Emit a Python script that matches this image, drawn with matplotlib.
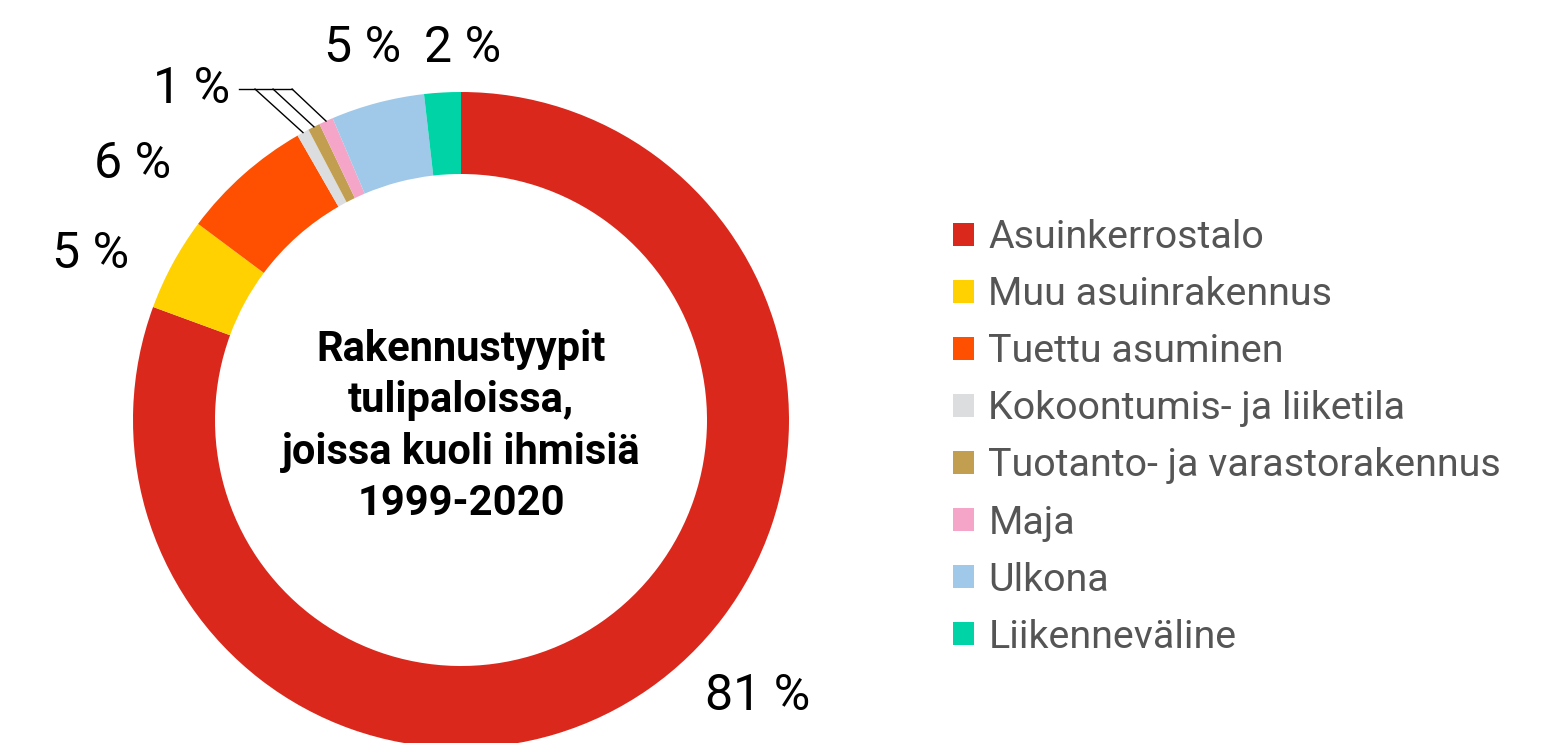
import matplotlib.pyplot as plt
from matplotlib.patches import Patch
import numpy as np

plt.rcParams['font.family'] = ['Roboto', 'DejaVu Sans']

categories = ['Asuinkerrostalo', 'Muu asuinrakennus', 'Tuettu asuminen',
              'Kokoontumis- ja liiketila', 'Tuotanto- ja varastorakennus',
              'Maja', 'Ulkona', 'Liikenneväline']
shares = [80.6, 4.6, 6.5, 0.6, 0.6, 0.7, 4.6, 1.8]
labels = ['81 %', '5 %', '6 %', '1 %', '1 %', '1 %', '5 %', '2 %']
colors = ['#da291c', '#ffd100', '#fe5000', '#dcdddf', '#c29f50',
          '#f4a5c8', '#a0c8e8', '#00d4a6']

W, H = 1568, 743
R = 328.0
cx, cy = 461, 420  # pixel centre, from top

fig = plt.figure(figsize=(W / 100, H / 100), dpi=100)
ax = fig.add_axes([0, 0, 1, 1])
wedges, _ = ax.pie(shares, colors=colors, startangle=90, counterclock=False,
                   radius=1, wedgeprops=dict(width=0.25, linewidth=0))
ax.set_xlim(-cx / R, (W - cx) / R)
ax.set_ylim(-(H - cy) / R, cy / R)
ax.set_aspect('auto')
ax.axis('off')

# percent labels
lab_pos = {0: (0.905, -0.84), 1: (-1.13, 0.505), 2: (-1.0, 0.78),
           6: (-0.30, 1.135), 7: (0.005, 1.135)}
for i, (x, y) in lab_pos.items():
    ax.text(x, y, labels[i], fontsize=36, ha='center', va='center', color='black')

# small slices share one label with leader lines
ax.text(-0.705, 1.01, '1 %', fontsize=36, ha='right', va='center', color='black')
ax.plot([-0.677, -0.515], [1.009, 1.009], color='black', lw=1)
starts = [-0.628, -0.573, -0.515]
for k, i in enumerate([3, 4, 5]):
    w = wedges[i]
    mid = np.deg2rad((w.theta1 + w.theta2) / 2)
    ax.plot([starts[k], np.cos(mid)], [1.009, np.sin(mid)], color='black', lw=1)

ax.text(0, -0.02, 'Rakennustyypit\ntulipaloissa,\njoissa kuoli ihmisiä\n1999-2020',
        fontsize=30, fontweight='bold', ha='center', va='center',
        linespacing=1.33, color='black')

handles = [Patch(facecolor=c, edgecolor='none') for c in colors]
fig.legend(handles, categories, loc='upper left',
           bbox_to_anchor=(953 / W, 1 - 219 / H), frameon=False,
           fontsize=28.4, labelcolor='#555555', handlelength=0.52,
           handleheight=0.52, handletextpad=0.38, labelspacing=0.51,
           borderpad=0, borderaxespad=0)

fig.savefig('out.png', dpi=100)
